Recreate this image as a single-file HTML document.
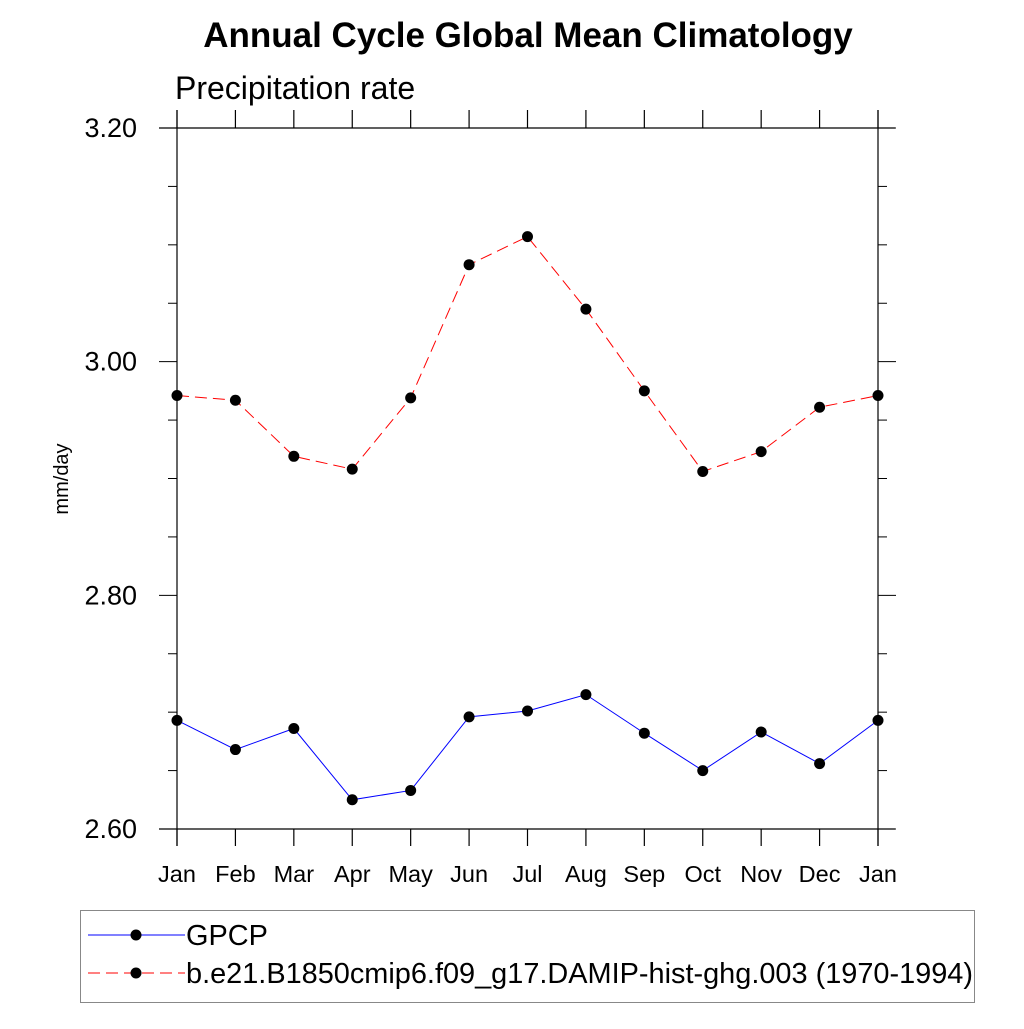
<!DOCTYPE html>
<html><head><meta charset="utf-8"><style>
body{margin:0;background:#fff}
svg text{font-family:"Liberation Sans",sans-serif}
</style></head><body>
<svg id="c" width="1024" height="1024" viewBox="0 0 1024 1024" xmlns="http://www.w3.org/2000/svg">
<text x="528" y="47" text-anchor="middle" font-size="35" font-weight="bold">Annual Cycle Global Mean Climatology</text>
<text x="175" y="99" font-size="32">Precipitation rate</text>
<text transform="translate(68,479) rotate(-90)" text-anchor="middle" font-size="20">mm/day</text>
<g id="axes"></g>
<g id="series"></g>
<rect x="80.5" y="910.5" width="894" height="92" fill="none" stroke="#888" stroke-width="1"/>
<g id="legend"></g>
</svg>
<script>
const months=["Jan","Feb","Mar","Apr","May","Jun","Jul","Aug","Sep","Oct","Nov","Dec","Jan"];
const gpcp=[2.693,2.668,2.686,2.625,2.633,2.696,2.701,2.715,2.682,2.650,2.683,2.656,2.693];
const model=[2.971,2.967,2.919,2.908,2.969,3.083,3.107,3.045,2.975,2.906,2.923,2.961,2.971];
const yTicks=[2.60,2.80,3.00,3.20];
const yTickLabels=["2.60","2.80","3.00","3.20"];
const seriesNames=["GPCP","b.e21.B1850cmip6.f09_g17.DAMIP-hist-ghg.003 (1970-1994)"];
const NS="http://www.w3.org/2000/svg";
const X0=177,X1=878,Y0=829,Y1=128,YMIN=2.6,YMAX=3.2;
const xs=i=>X0+(X1-X0)*i/(months.length-1);
const ys=v=>Y0-(v-YMIN)/(YMAX-YMIN)*(Y0-Y1);
function mk(tag,attrs,parent){const e=document.createElementNS(NS,tag);for(const k in attrs)e.setAttribute(k,attrs[k]);parent.appendChild(e);return e;}
const ax=document.getElementById('axes');
let e;
e=mk('line',{x1:159,x2:895,y1:Y1,y2:Y1,stroke:'#000','stroke-width':1.2},ax);


e=mk('line',{x1:159,x2:895,y1:Y0,y2:Y0,stroke:'#000','stroke-width':1.2},ax);


e=mk('line',{x1:X0,x2:X0,y1:110,y2:846,stroke:'#000','stroke-width':1.2},ax);


e=mk('line',{x1:X1,x2:X1,y1:110,y2:846,stroke:'#000','stroke-width':1.2},ax);


months.forEach((m,i)=>{
  const x=xs(i);
  e=mk('line',{x1:x,x2:x,y1:110,y2:Y1,stroke:'#000','stroke-width':1.2},ax);
  
  
  e=mk('line',{x1:x,x2:x,y1:Y0,y2:846,stroke:'#000','stroke-width':1.2},ax);
  
  
  e=mk('text',{x:x,y:882,'text-anchor':'middle','font-size':23.5},ax);e.textContent=m;
  
  
});
for(let v=YMIN;v<=YMAX+1e-6;v+=0.05){
  const major=Math.abs(Math.round(v*10)-v*10)<1e-6&&Math.round(v*10)%2===0;
  const y=ys(v),L=major?18:9;
  e=mk('line',{x1:X0-L,x2:X0,y1:y,y2:y,stroke:'#000','stroke-width':1},ax);
  
  
  e=mk('line',{x1:X1,x2:X1+L,y1:y,y2:y,stroke:'#000','stroke-width':1},ax);
  
  
}
yTicks.forEach((v,i)=>{
  e=mk('text',{x:137,y:ys(v)+9,'text-anchor':'end','font-size':27},ax);e.textContent=yTickLabels[i];
  
  
});
const sg=document.getElementById('series');
function drawSeries(vals,color,dash,name){
  const g=mk('g',{},sg);
  
  
  const p=mk('polyline',{points:vals.map((v,i)=>xs(i)+','+ys(v)).join(' '),fill:'none',stroke:color,'stroke-width':1,'stroke-dasharray':dash},g);
  
  
  vals.forEach((v,i)=>{
    const c=mk('circle',{cx:xs(i),cy:ys(v),r:5.5,fill:'#000'},g);
    
    
  });
}
drawSeries(gpcp,'#0000ff','none','gpcp-series');
drawSeries(model,'#ff0000','12 6','model-series');
const lg=document.getElementById('legend');
[[0,'#0000ff','none',935],[1,'#ff0000','12 6',973]].forEach(([i,c,d,y])=>{
  const g=mk('g',{},lg);
  
  
  mk('line',{x1:88,x2:185,y1:y,y2:y,stroke:c,'stroke-width':1,'stroke-dasharray':d},g);
  mk('circle',{cx:136,cy:y,r:5.5,fill:'#000'},g);
  const t=mk('text',{x:186,y:y+10,'font-size':28.9},g);t.textContent=seriesNames[i];
});
</script>
</body></html>
